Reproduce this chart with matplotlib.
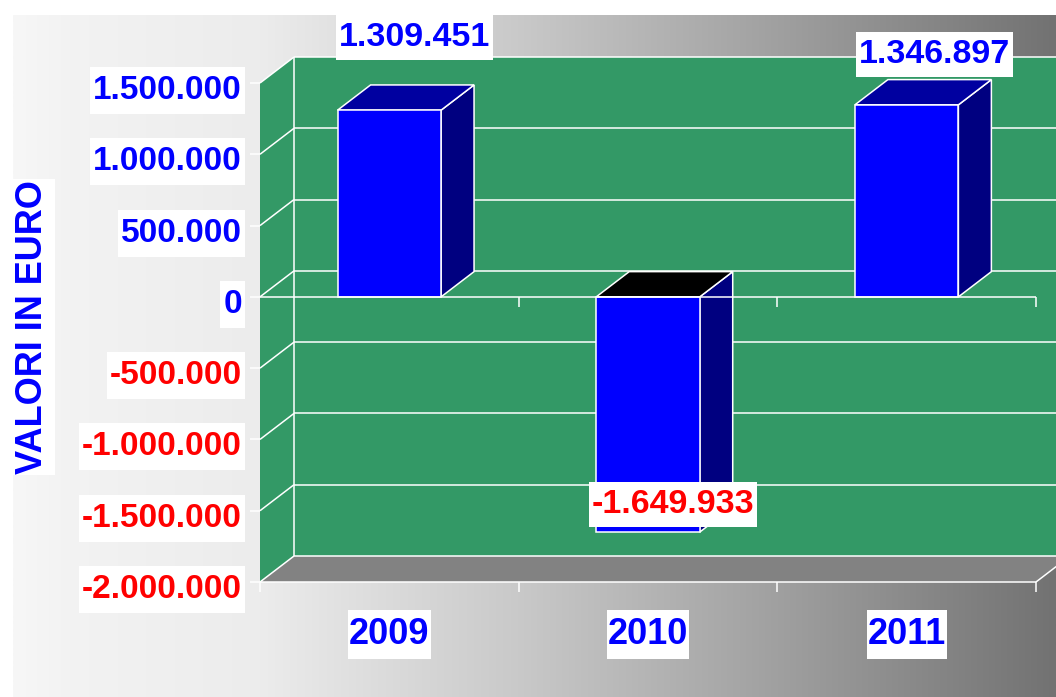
import numpy as np
import matplotlib
matplotlib.use("Agg")
import matplotlib.pyplot as plt
from matplotlib.patches import Polygon, Rectangle
from matplotlib.transforms import IdentityTransform

# ---- data -------------------------------------------------------------
years = ["2009", "2010", "2011"]
values = [1309451, -1649933, 1346897]
value_labels = ["1.309.451", "-1.649.933", "1.346.897"]
y_ticks = [1500000, 1000000, 500000, 0, -500000, -1000000, -1500000, -2000000]
y_tick_labels = ["1.500.000", "1.000.000", "500.000", "0",
                 "-500.000", "-1.000.000", "-1.500.000", "-2.000.000"]
y_title = "VALORI IN EURO"

# ---- style ------------------------------------------------------------
FONT = ["Liberation Sans Narrow", "Liberation Sans", "DejaVu Sans"]
BLUE, RED = "#0000ff", "#ff0000"
WALL = "#339966"
FLOOR = "#828282"
FACE, SIDE, TOP, TOP_NEG = "#0000ff", "#000080", "#0000a0", "#000000"
W, H = 1056, 697
CAP = 0.716          # digit height as a fraction of the em size

fig = plt.figure(figsize=(W / 100, H / 100), dpi=100)
fig.patch.set_facecolor("white")

# background: horizontal grey gradient panel
bg = fig.add_axes([0, 0, 1, 1], zorder=0)
bg.set_xlim(0, W)
bg.set_ylim(H, 0)
bg.axis("off")
xs = np.linspace(13, W, 600)
stops_x = [13, 60, 260, 518, 778, W]
stops_v = [247, 243, 236, 201, 160, 114]
grad = np.interp(xs, stops_x, stops_v) / 255.0
img = np.repeat(grad[None, :, None], 3, axis=2)
bg.imshow(img, extent=[13, W, H, 15], aspect="auto", interpolation="bilinear")

# front plane of the 3-D box
left_px, right_px, top_px, bot_px = 260, 1036, 83, 582
ax = fig.add_axes([left_px / W, (H - bot_px) / H,
                   (right_px - left_px) / W, (bot_px - top_px) / H], zorder=1)
ax.set_xlim(-0.5, 2.5)
ax.set_ylim(-2000000, 1500000)
ax.axis("off")

px_x = 3.0 / (right_px - left_px)          # categories per pixel
px_y = 3500000.0 / (bot_px - top_px)       # euro per pixel
DX, DY = 34 * px_x, 26 * px_y              # depth of the box
ymin, ymax = -2000000, 1500000
x0, x1 = -0.5, 2.5
LW = 1.1


def poly(pts, fc, z, ec="none", lw=0):
    ax.add_patch(Polygon(pts, closed=True, facecolor=fc, edgecolor=ec,
                         linewidth=lw, zorder=z, clip_on=False,
                         joinstyle="miter"))


def line(xx, yy, z=3):
    ax.plot(xx, yy, color="white", lw=LW, zorder=z, clip_on=False,
            solid_capstyle="butt")


# back wall
poly([(x0 + DX, ymin + DY), (x1 + DX, ymin + DY),
      (x1 + DX, ymax + DY), (x0 + DX, ymax + DY)], WALL, 1)
# side wall
poly([(x0, ymin), (x0 + DX, ymin + DY), (x0 + DX, ymax + DY), (x0, ymax)],
     WALL, 1)
# floor
poly([(x0, ymin), (x1, ymin), (x1 + DX, ymin + DY), (x0 + DX, ymin + DY)],
     FLOOR, 1.5)

# gridlines on back and side walls, tick stubs on the front edge
for t in y_ticks:
    line([x0 + DX, x1 + DX], [t + DY, t + DY], 2)
    line([x0, x0 + DX], [t, t + DY], 2)
    line([x0 - 10 * px_x, x0], [t, t], 2)
line([x0 + DX, x0 + DX], [ymin + DY, ymax + DY], 2)

# floor edges and category ticks
line([x0, x1], [ymin, ymin], 2)
line([x1, x1 + DX], [ymin, ymin + DY], 2)
for b in np.arange(-0.5, 2.6, 1.0):
    line([b, b], [ymin, ymin - 10 * px_y], 2)

# bars
BAR_W = 0.40
BD = 0.97
for i, v in enumerate(values):
    l, r = i - BAR_W / 2, i + BAR_W / 2
    dx, dy = DX * BD, DY * BD
    # side face
    poly([(r, 0), (r, v), (r + dx, v + dy), (r + dx, dy)], SIDE, 4,
         "white", LW)
    # top face (at the value for positive bars, at zero for negative ones)
    ty = v if v >= 0 else 0
    poly([(l, ty), (r, ty), (r + dx, ty + dy), (l + dx, ty + dy)],
         TOP if v >= 0 else TOP_NEG, 4, "white", LW)
    # front face
    poly([(l, 0), (r, 0), (r, v), (l, v)], FACE, 5, "white", LW)

# zero base line in front of the bars, with its ticks
line([x0, x1], [0, 0], 6)
for b in np.arange(0.5, 2.6, 1.0):
    line([b, b], [0, -10 * px_y], 6)


def half_cap(fs):
    return fs * 100 / 72 * CAP / 2


boxed = []

# value labels
label_offsets = [(25, 76), (25, 31), (28, 54)]
FS_VAL = 24.5
for i, (v, s) in enumerate(zip(values, value_labels)):
    ox, oy = label_offsets[i]
    t = ax.annotate(s, xy=(i, v), xytext=(ox, oy - half_cap(FS_VAL)),
                    textcoords="offset pixels", ha="center", va="baseline",
                    fontsize=FS_VAL, fontweight="bold", family=FONT,
                    color=BLUE if v >= 0 else RED, zorder=11,
                    annotation_clip=False)
    boxed.append((t, 3, 7))

# value-axis labels
FS_TICK = 24
for t_val, s in zip(y_ticks, y_tick_labels):
    t = ax.annotate(s, xy=(x0, t_val), xytext=(-18, -4 - half_cap(FS_TICK)),
                    textcoords="offset pixels", ha="right", va="baseline",
                    fontsize=FS_TICK, fontweight="bold", family=FONT,
                    color=BLUE if t_val >= 0 else RED, zorder=11,
                    annotation_clip=False)
    boxed.append((t, 3, 8))

# category labels
FS_CAT = 26
for i, y in enumerate(years):
    t = ax.annotate(y, xy=(i, ymin), xytext=(0, -49 - half_cap(FS_CAT)),
                    textcoords="offset pixels", ha="center", va="baseline",
                    fontsize=FS_CAT, fontweight="bold", family=FONT,
                    color=BLUE, zorder=11, annotation_clip=False)
    boxed.append((t, 1, 7))

# axis title
tt = ax.text(33 / W, (H - 327) / H, y_title, transform=fig.transFigure,
             rotation=90, ha="center", va="center", fontsize=26,
             fontweight="bold", family=FONT, color=BLUE, zorder=11)
boxed.append((tt, 4, 1))

# white boxes behind every label
fig.canvas.draw()
renderer = fig.canvas.get_renderer()
for t, padx, pady in boxed:
    bb = t.get_window_extent(renderer)
    ax.add_artist(Rectangle((bb.x0 - padx, bb.y0 - pady),
                            bb.width + 2 * padx, bb.height + 2 * pady,
                            transform=IdentityTransform(), facecolor="white",
                            edgecolor="none", zorder=10, clip_on=False))

fig.savefig("out.png", dpi=100)
